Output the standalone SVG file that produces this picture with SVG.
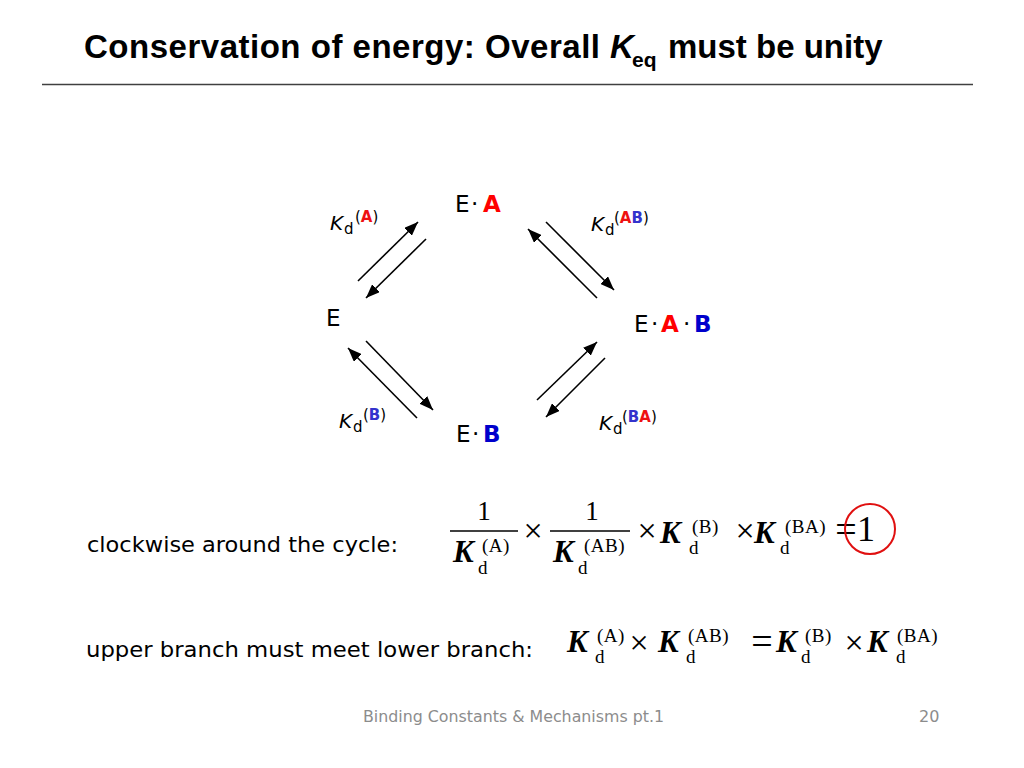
<svg xmlns="http://www.w3.org/2000/svg" width="1024" height="768" viewBox="0 0 1024 768">
<defs>
<marker id="ah" markerUnits="userSpaceOnUse" markerWidth="14" markerHeight="11" viewBox="0 0 14 11" refX="14" refY="5.5" orient="auto">
<path d="M0,0 L14,5.5 L0,11 z" fill="#000"/>
</marker>
<style>
.title{font-family:"Liberation Sans",Arial,sans-serif;font-weight:bold;fill:#000}
.v{font-family:"DejaVu Sans",Verdana,sans-serif;fill:#000}
.node{font-size:23px}
.bold{font-weight:bold}
.red{fill:#FF0000}
.blue{fill:#0000CC}
.lred{fill:#EE1111}
.lblue{fill:#3333CC}
.lk{font-size:20px;font-style:italic}
.ld{font-size:15px}
.lp{font-size:15px}
.m{font-family:"Liberation Serif","Times New Roman",serif;fill:#000}
.K{font-size:31px;font-style:italic;font-weight:bold}
.sup{font-size:19px;letter-spacing:0.5px}
.sub{font-size:19px}
.op{font-size:34px}
.eq{font-size:38px}
.one{font-size:27px}
.body{font-size:22px}
.foot{font-family:"DejaVu Sans",Verdana,sans-serif;font-size:16px;fill:#8c8c8c}
.conn line{stroke:#000;stroke-width:1.6;marker-end:url(#ah)}
.bar{stroke:#000;stroke-width:1.3}
</style>
</defs>
<rect width="1024" height="768" fill="#fff"/>

<g id="title">
<text class="title" y="58" font-size="33"><tspan x="84" textLength="516" lengthAdjust="spacing">Conservation of energy: Overall</tspan><tspan x="610" font-style="italic">K</tspan><tspan x="632" y="67" font-size="21">eq</tspan><tspan x="668" y="58">must be unity</tspan></text>
<line x1="42" y1="84.5" x2="973" y2="84.5" stroke="#404040" stroke-width="1.5"/>
</g>

<g id="node-EA"><text class="v node" y="212"><tspan x="455">E</tspan><tspan x="471">·</tspan><tspan x="483" class="bold red">A</tspan></text></g>
<g id="node-E"><text class="v node" x="326" y="326">E</text></g>
<g id="node-EAB"><text class="v node" y="332"><tspan x="634">E</tspan><tspan x="651">·</tspan><tspan x="661" class="bold red">A</tspan><tspan x="683">·</tspan><tspan x="694" class="bold blue">B</tspan></text></g>
<g id="node-EB"><text class="v node" y="442"><tspan x="456">E</tspan><tspan x="472">·</tspan><tspan x="483" class="bold blue">B</tspan></text></g>

<g id="connectors" class="conn">
<line x1="358" y1="281" x2="418" y2="222"/>
<line x1="426" y1="239" x2="366" y2="298"/>
<line x1="597" y1="298" x2="528" y2="229"/>
<line x1="546" y1="222" x2="614" y2="290"/>
<line x1="417" y1="418" x2="348" y2="348"/>
<line x1="366" y1="341" x2="433" y2="410"/>
<line x1="537" y1="400" x2="597" y2="342"/>
<line x1="605" y1="358" x2="546" y2="417"/>
</g>

<g id="label-KdA"><text class="v"><tspan class="lk" x="330" y="230">K</tspan><tspan class="ld" x="344" y="234">d</tspan><tspan class="lp" x="355" y="222">(</tspan><tspan class="lp bold lred">A</tspan><tspan class="lp">)</tspan></text></g>
<g id="label-KdAB"><text class="v"><tspan class="lk" x="591" y="231">K</tspan><tspan class="ld" x="605" y="235">d</tspan><tspan class="lp" x="614" y="223">(</tspan><tspan class="lp bold lred">A</tspan><tspan class="lp bold lblue">B</tspan><tspan class="lp">)</tspan></text></g>
<g id="label-KdB"><text class="v"><tspan class="lk" x="339" y="428">K</tspan><tspan class="ld" x="353" y="432">d</tspan><tspan class="lp" x="363" y="420">(</tspan><tspan class="lp bold lblue">B</tspan><tspan class="lp">)</tspan></text></g>
<g id="label-KdBA"><text class="v"><tspan class="lk" x="599" y="430">K</tspan><tspan class="ld" x="613" y="434">d</tspan><tspan class="lp" x="622" y="422">(</tspan><tspan class="lp bold lblue">B</tspan><tspan class="lp bold lred">A</tspan><tspan class="lp">)</tspan></text></g>

<g id="eq-cycle">
<text class="v body" x="87" y="552" textLength="311" lengthAdjust="spacingAndGlyphs">clockwise around the cycle:</text>
<text class="m one" x="484" y="520" text-anchor="middle">1</text>
<line class="bar" x1="450" y1="531" x2="518" y2="531"/>
<text class="m K" x="453" y="562">K</text>
<text class="m sup" x="482" y="552">(A)</text>
<text class="m sub" x="478" y="574">d</text>
<text class="m op" x="533" y="542" text-anchor="middle">×</text>
<text class="m one" x="592" y="520" text-anchor="middle">1</text>
<line class="bar" x1="550" y1="531" x2="630" y2="531"/>
<text class="m K" x="553" y="562">K</text>
<text class="m sup" x="584" y="552">(AB)</text>
<text class="m sub" x="578" y="574">d</text>
<text class="m op" x="647" y="542" text-anchor="middle">×</text>
<text class="m K" x="660" y="543">K</text>
<text class="m sup" x="692" y="533">(B)</text>
<text class="m sub" x="689" y="554">d</text>
<text class="m op" x="745" y="542" text-anchor="middle">×</text>
<text class="m K" x="754" y="543">K</text>
<text class="m sup" x="785" y="533">(BA)</text>
<text class="m sub" x="780" y="554">d</text>
<text class="m eq" x="846" y="542" text-anchor="middle">=</text>
<text class="m" x="866" y="541" font-size="36" text-anchor="middle">1</text>
<circle cx="870" cy="529" r="25" fill="none" stroke="#E01010" stroke-width="2"/>
</g>

<g id="eq-branch">
<text class="v body" x="86" y="657" textLength="447" lengthAdjust="spacingAndGlyphs">upper branch must meet lower branch:</text>
<text class="m K" x="567" y="652">K</text>
<text class="m sup" x="597" y="642">(A)</text>
<text class="m sub" x="595" y="663">d</text>
<text class="m op" x="639" y="654" text-anchor="middle">×</text>
<text class="m K" x="658" y="652">K</text>
<text class="m sup" x="688" y="642">(AB)</text>
<text class="m sub" x="686" y="663">d</text>
<text class="m eq" x="762" y="654" text-anchor="middle">=</text>
<text class="m K" x="776" y="652">K</text>
<text class="m sup" x="805" y="642">(B)</text>
<text class="m sub" x="801" y="663">d</text>
<text class="m op" x="854" y="654" text-anchor="middle">×</text>
<text class="m K" x="867" y="652">K</text>
<text class="m sup" x="897" y="642">(BA)</text>
<text class="m sub" x="896" y="663">d</text>
</g>

<g id="footer">
<text class="foot" x="363" y="722" textLength="301" lengthAdjust="spacingAndGlyphs">Binding Constants &amp; Mechanisms pt.1</text>
<text class="foot" x="919" y="722">20</text>
</g>
</svg>
